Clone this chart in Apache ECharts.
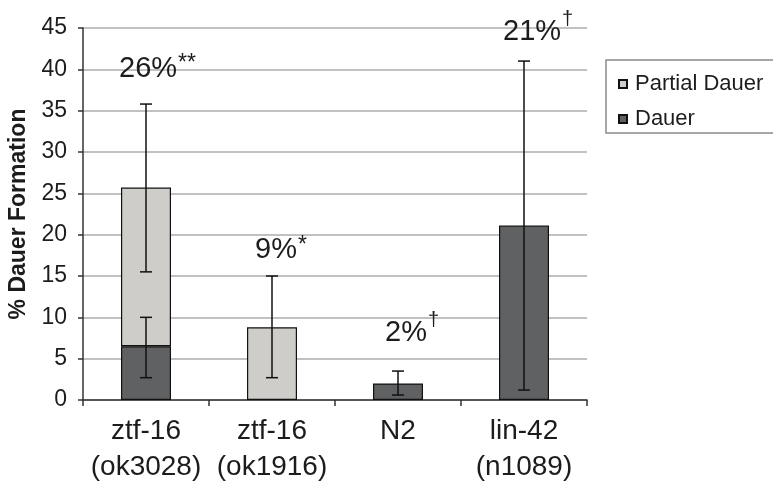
<!DOCTYPE html>
<html>
<head>
<meta charset="utf-8">
<script src="https://cdn.jsdelivr.net/npm/echarts@6/dist/echarts.min.js"></script>
<style>
  html, body { margin: 0; padding: 0; background: #fff; }
  #chart { width: 773px; height: 485px; }
</style>
</head>
<body>
<div id="chart"></div>
<script>
  // strains on the x axis
  const categories = ['ztf-16\n(ok3028)', 'ztf-16\n(ok1916)', 'N2', 'lin-42\n(n1089)'];
  // stacked bars, % dauer formation
  const dauer = [6.5, null, 2.0, 21.1];
  const partialDauer = [19.2, 8.8, null, null];
  // error bars: [category index, low, high]
  const errorBars = [
    [0, 2.7, 10.0],
    [0, 15.5, 35.8],
    [1, 2.7, 15.0],
    [2, 0.6, 3.5],
    [3, 1.2, 41.0]
  ];
  // annotations above bars: [category index, height, text, mark]
  const notes = [
    [0, 40.1, '26%', '**'],
    [1, 18.1, '9%', '*'],
    [2, 8.1, '2%', '†'],
    [3, 44.5, '21%', '†']
  ];
  const yTicks = [0, 45, 5];

  const noteShift = [-27, -17, -13, -21]; // px, left edge of text from bar centre
  const font = '"Liberation Sans", Arial, sans-serif';
  const ink = '#1c1c1c';

  // width of the main note text, so the mark can sit right after it
  let ctx = document.createElement('canvas').getContext('2d');
  ctx.font = '29px ' + font;
  function textW(s) { return ctx.measureText(s).width; }

  let myChart = echarts.init(document.getElementById('chart'), null, { renderer: 'canvas' });

  let option = {
    backgroundColor: '#fff',
    animation: false,
    textStyle: { fontFamily: font },
    grid: { left: 83, right: 186, top: 28, bottom: 85, outerBoundsMode: 'none', containLabel: false },
    legend: {
      data: ['Partial Dauer', 'Dauer'],
      orient: 'vertical',
      left: 606,
      top: 60,
      icon: 'rect',
      itemWidth: 8,
      itemHeight: 8,
      itemGap: 13,
      borderColor: '#8a8a8a',
      borderWidth: 1.5,
      padding: [13, 14, 3, 12],
      selectedMode: false,
      textStyle: { fontSize: 22, color: ink, fontFamily: font, lineHeight: 22, padding: [0, 0, 0, 3] }
    },
    xAxis: {
      type: 'category',
      data: categories,
      axisLine: { lineStyle: { color: '#333', width: 1.5 } },
      axisTick: { show: true, length: 6, lineStyle: { color: '#333', width: 1.5 } },
      axisLabel: { interval: 0, fontSize: 28, lineHeight: 36, margin: 13, color: ink, fontFamily: font }
    },
    yAxis: {
      type: 'value',
      min: yTicks[0],
      max: yTicks[1],
      interval: yTicks[2],
      name: '% Dauer Formation',
      nameLocation: 'middle',
      nameRotate: 90,
      nameGap: 50,
      nameTextStyle: { fontSize: 23, fontWeight: 'bold', color: ink, fontFamily: font },
      axisLine: { show: true, lineStyle: { color: '#333', width: 1.5 } },
      axisTick: { show: true, length: 5, lineStyle: { color: '#333', width: 1.5 } },
      axisLabel: { fontSize: 23, margin: 16, color: ink, fontFamily: font },
      splitLine: { lineStyle: { color: '#adadad', width: 1.5 } }
    },
    series: [
      {
        name: 'Dauer',
        type: 'bar',
        stack: 'total',
        barWidth: 50,
        data: dauer,
        itemStyle: { color: '#5f6163', borderColor: '#111', borderWidth: 1.2 }
      },
      {
        name: 'Partial Dauer',
        type: 'bar',
        stack: 'total',
        barWidth: 50,
        data: partialDauer,
        itemStyle: { color: '#cfcdca', borderColor: '#111', borderWidth: 1.2 }
      },
      {
        type: 'custom',
        name: 'err',
        data: errorBars,
        z: 10,
        renderItem: function (params, api) {
          let lo = api.coord([api.value(0), api.value(1)]);
          let hi = api.coord([api.value(0), api.value(2)]);
          let cap = 6;
          let st = { stroke: '#111', lineWidth: 1.5 };
          return {
            type: 'group',
            children: [
              { type: 'line', shape: { x1: lo[0], y1: lo[1], x2: hi[0], y2: hi[1] }, style: st },
              { type: 'line', shape: { x1: lo[0] - cap, y1: lo[1], x2: lo[0] + cap, y2: lo[1] }, style: st },
              { type: 'line', shape: { x1: hi[0] - cap, y1: hi[1], x2: hi[0] + cap, y2: hi[1] }, style: st }
            ]
          };
        }
      },
      {
        type: 'custom',
        name: 'notes',
        data: notes,
        z: 11,
        renderItem: function (params, api) {
          let n = notes[params.dataIndex];
          let p = api.coord([n[0], n[1]]);
          let x0 = p[0] + noteShift[params.dataIndex];
          let dagger = n[3] === '†';
          return {
            type: 'group',
            children: [
              {
                type: 'text', x: x0, y: p[1],
                style: { text: n[2], font: '29px ' + font, fill: ink, align: 'left', verticalAlign: 'middle' }
              },
              {
                type: 'text', x: x0 + textW(n[2]) + (dagger ? 1 : 1), y: p[1] + (dagger ? -13 : -5),
                style: { text: n[3], font: (dagger ? '20px ' : '23px ') + font, fill: ink, align: 'left', verticalAlign: 'middle' }
              }
            ]
          };
        }
      }
    ]
  };

  myChart.setOption(option);
</script>
</body>
</html>
